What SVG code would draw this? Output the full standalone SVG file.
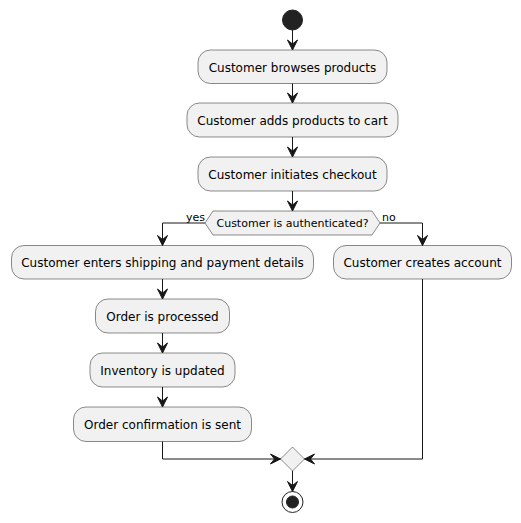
<svg xmlns="http://www.w3.org/2000/svg" width="521" height="523" viewBox="0 0 521 523">
<style>
.act{fill:#F1F1F1;stroke:#181818;stroke-width:0.5}
.t{font-family:"DejaVu Sans",sans-serif;font-size:12px;fill:#000;text-anchor:middle}
.lbl{font-family:"DejaVu Sans",sans-serif;font-size:11px;fill:#000}
.ln{fill:none;stroke:#181818;stroke-width:1}
.ah{fill:#181818;stroke:#181818;stroke-width:1}
</style>
<rect width="521" height="523" fill="#FFFFFF"/>
<g id="start"><circle cx="292.5" cy="20" r="10" fill="#222222" stroke="#222222"/></g>
<g id="n1"><rect class="act" x="198" y="50" width="189" height="33.5" rx="12.5"/><text class="t" x="292.5" y="71.5">Customer browses products</text></g>
<g id="n2"><rect class="act" x="187" y="103" width="211" height="34" rx="12.5"/><text class="t" x="292.5" y="124.5">Customer adds products to cart</text></g>
<g id="n3"><rect class="act" x="198" y="157" width="189" height="34" rx="12.5"/><text class="t" x="292.5" y="178.5">Customer initiates checkout</text></g>
<g id="d1"><polygon class="act" points="205,223 213,211 372,211 380,223 372,235 213,235"/><text class="t" style="font-size:11px" x="292.5" y="227">Customer is authenticated?</text></g>
<g id="n4"><rect class="act" x="11.5" y="245.5" width="302" height="33.5" rx="12.5"/><text class="t" x="162.5" y="266.5">Customer enters shipping and payment details</text></g>
<g id="n5"><rect class="act" x="333.5" y="245.5" width="178" height="33.5" rx="12.5"/><text class="t" x="422.5" y="266.5">Customer creates account</text></g>
<g id="n6"><rect class="act" x="95.5" y="299" width="134" height="34" rx="12.5"/><text class="t" x="162.5" y="320.5">Order is processed</text></g>
<g id="n7"><rect class="act" x="90" y="353" width="145" height="34" rx="12.5"/><text class="t" x="162.5" y="374.5">Inventory is updated</text></g>
<g id="n8"><rect class="act" x="73.5" y="407" width="178" height="34.5" rx="12.5"/><text class="t" x="162.5" y="428.5">Order confirmation is sent</text></g>
<g id="merge"><polygon class="act" points="292.5,447 304.5,459 292.5,471 280.5,459"/></g>
<g id="end"><circle cx="292.5" cy="502" r="10.5" fill="none" stroke="#222222" stroke-width="1"/><circle cx="292.5" cy="502" r="6" fill="#222222" stroke="#222222"/></g>
<g id="connectors">
<line class="ln" x1="292.5" y1="30" x2="292.5" y2="50"/><polygon class="ah" points="287.5,40 292.5,50 297.5,40 292.5,44"/>
<line class="ln" x1="292.5" y1="83.5" x2="292.5" y2="103"/><polygon class="ah" points="287.5,93 292.5,103 297.5,93 292.5,97"/>
<line class="ln" x1="292.5" y1="137" x2="292.5" y2="157"/><polygon class="ah" points="287.5,147 292.5,157 297.5,147 292.5,151"/>
<line class="ln" x1="292.5" y1="191" x2="292.5" y2="211"/><polygon class="ah" points="287.5,201 292.5,211 297.5,201 292.5,205"/>
<polyline class="ln" points="205,223 162.5,223 162.5,245.5"/><polygon class="ah" points="157.5,235.5 162.5,245.5 167.5,235.5 162.5,239.5"/>
<text class="lbl" x="186" y="220.5">yes</text>
<polyline class="ln" points="380,223 422.5,223 422.5,245.5"/><polygon class="ah" points="417.5,235.5 422.5,245.5 427.5,235.5 422.5,239.5"/>
<text class="lbl" x="382" y="220.5">no</text>
<line class="ln" x1="162.5" y1="279" x2="162.5" y2="299"/><polygon class="ah" points="157.5,289 162.5,299 167.5,289 162.5,293"/>
<line class="ln" x1="162.5" y1="333" x2="162.5" y2="353"/><polygon class="ah" points="157.5,343 162.5,353 167.5,343 162.5,347"/>
<line class="ln" x1="162.5" y1="387" x2="162.5" y2="407"/><polygon class="ah" points="157.5,397 162.5,407 167.5,397 162.5,401"/>
<polyline class="ln" points="162.5,441.5 162.5,459 280.5,459"/><polygon class="ah" points="270.5,454 280.5,459 270.5,464 274.5,459"/>
<polyline class="ln" points="422.5,279 422.5,459 304.5,459"/><polygon class="ah" points="314.5,454 304.5,459 314.5,464 310.5,459"/>
<line class="ln" x1="292.5" y1="471" x2="292.5" y2="491.5"/><polygon class="ah" points="287.5,481.5 292.5,491.5 297.5,481.5 292.5,485.5"/>
</g>
</svg>
